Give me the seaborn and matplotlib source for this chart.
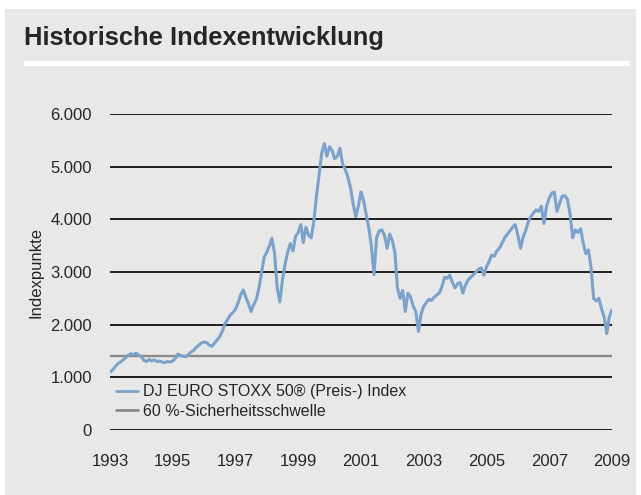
import numpy as np
import pandas as pd
import matplotlib
matplotlib.use("Agg")
import matplotlib.pyplot as plt
import matplotlib.dates as mdates
from matplotlib.patches import Rectangle
from matplotlib.lines import Line2D
from matplotlib.ticker import FuncFormatter
import seaborn as sns

# Data (monthly values, first point at the "1993" tick)
START = "1993-01-01"
INDEX_VALUES = [
    1100, 1140, 1200, 1260, 1290, 1330, 1370, 1420, 1450, 1430, 1460, 1420,   # 1993
    1390, 1320, 1300, 1340, 1310, 1330, 1300, 1310, 1290, 1280, 1300, 1290,   # 1994
    1310, 1360, 1440, 1420, 1400, 1390, 1430, 1480, 1510, 1570, 1610, 1650,   # 1995
    1670, 1660, 1610, 1590, 1650, 1710, 1770, 1880, 2020, 2100, 2180, 2230,   # 1996
    2290, 2420, 2560, 2660, 2520, 2400, 2250, 2380, 2480, 2700, 3000, 3280,   # 1997
    3380, 3500, 3640, 3350, 2700, 2430, 2850, 3150, 3380, 3540, 3400, 3680,   # 1998
    3750, 3900, 3560, 3850, 3700, 3650, 3950, 4430, 4850, 5250, 5440, 5200,   # 1999
    5380, 5300, 5150, 5200, 5350, 5050, 4950, 4800, 4600, 4300, 4050, 4250,   # 2000
    4520, 4350, 4100, 3850, 3500, 2950, 3650, 3780, 3800, 3700, 3450, 3720,   # 2001
    3600, 3350, 2700, 2500, 2650, 2250, 2600, 2530, 2350, 2250, 1870, 2200,   # 2002
    2350, 2420, 2480, 2460, 2520, 2560, 2600, 2720, 2900, 2880, 2940, 2800,   # 2003
    2700, 2780, 2800, 2600, 2750, 2850, 2900, 2950, 3000, 3050, 3080, 2940,   # 2004
    3100, 3200, 3320, 3300, 3400, 3450, 3550, 3650, 3720, 3780, 3850, 3900,   # 2005
    3700, 3450, 3650, 3780, 3950, 4050, 4120, 4180, 4150, 4250, 3920, 4250,   # 2006
    4400, 4500, 4520, 4150, 4300, 4440, 4450, 4380, 4100, 3650, 3800, 3750,   # 2007
    3820, 3550, 3350, 3420, 3100, 2500, 2450, 2500, 2300, 2150, 1830, 2150,   # 2008
    2280,                                                                     # 2009
]
THRESHOLD = 1400
YEAR_TICKS = list(range(1993, 2010, 2))
Y_TICKS = [0, 1000, 2000, 3000, 4000, 5000, 6000]

SERIES_LABEL = "DJ EURO STOXX 50® (Preis-) Index"
THRESH_LABEL = "60 %-Sicherheitsschwelle"
TITLE = "Historische Indexentwicklung"
YLABEL = "Indexpunkte"

BG = "#e8e8e8"
BLUE = "#7ba2cb"
GREY_LINE = "#8a8a8a"

df = pd.DataFrame({
    "date": pd.date_range(START, periods=len(INDEX_VALUES), freq="MS"),
    "value": INDEX_VALUES,
})

sns.set_style("white")
plt.rcParams["font.family"] = ["Liberation Sans", "DejaVu Sans"]

W, H = 641, 495
fig = plt.figure(figsize=(W / 100, H / 100), dpi=100)
fig.patch.set_facecolor("white")

# grey panel and white separator under the title
fig.add_artist(Rectangle((5 / W, 1 - 495 / H), 631 / W, 486 / H,
                         transform=fig.transFigure, facecolor=BG, edgecolor="none", zorder=0))
fig.add_artist(Rectangle((24 / W, 1 - 66 / H), 606 / W, 5 / H,
                         transform=fig.transFigure, facecolor="white", edgecolor="none", zorder=1))
fig.text(24 / W, 1 - 38 / H, TITLE, fontsize=18.4, fontweight="bold", va="center", ha="left")

ax = fig.add_axes([110 / W, 65 / H, 502 / W, 316 / H])
ax.patch.set_alpha(0)

for yv in Y_TICKS:
    ax.axhline(yv, color="#1e1e1e", lw=1.4, zorder=1)

ax.axhline(THRESHOLD, color=GREY_LINE, lw=1.7, zorder=2)
sns.lineplot(data=df, x="date", y="value", ax=ax, color=BLUE, lw=2.2, zorder=3)

ax.set_xlim(pd.Timestamp("1993-01-01"), pd.Timestamp("2009-01-01"))
ax.set_ylim(0, 6000)
ax.set_xticks([pd.Timestamp(f"{y}-01-01") for y in YEAR_TICKS])
ax.xaxis.set_major_formatter(mdates.DateFormatter("%Y"))
ax.set_yticks(Y_TICKS)
ax.yaxis.set_major_formatter(FuncFormatter(lambda v, p: f"{int(v):,}".replace(",", ".")))
ax.tick_params(axis="both", length=0, labelsize=12)
ax.tick_params(axis="x", pad=17)
ax.tick_params(axis="y", pad=13)
ax.set_xlabel("")
ax.set_ylabel(YLABEL, fontsize=12, labelpad=5)
for s in ax.spines.values():
    s.set_visible(False)

handles = [Line2D([], [], color=BLUE, lw=2), Line2D([], [], color=GREY_LINE, lw=2)]
ax.legend(handles, [SERIES_LABEL, THRESH_LABEL], loc="upper left",
          bbox_to_anchor=(0.012, 0.145), frameon=False, fontsize=11.5,
          handlelength=1.4, handletextpad=0.3, borderpad=0, borderaxespad=0,
          labelspacing=0.3)

fig.savefig("out.png", dpi=100, facecolor=fig.get_facecolor())
